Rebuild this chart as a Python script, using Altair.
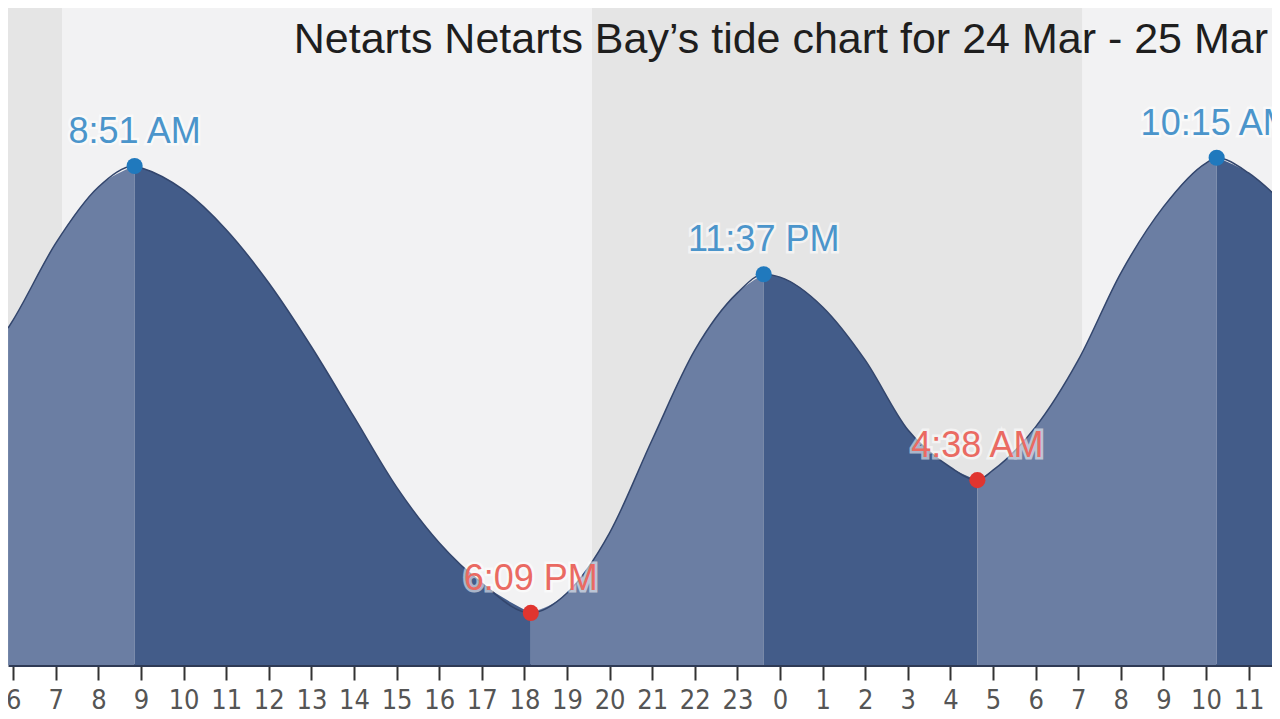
import altair as alt
import pandas as pd

# ---- data (hours counted from 24 Mar 00:00; heights in ft) ----
hours = [5.88, 6, 7, 8, 8.85, 9, 10, 11, 12, 13, 14, 15, 16, 17, 18.15, 19, 20, 21, 22,
         23, 23.617, 24, 25, 26, 27, 28, 28.633, 29, 30, 31, 32, 33, 34, 34.25, 35, 35.74]
heights = [5.76, 5.90, 7.21, 8.17, 8.53, 8.50, 8.12, 7.44, 6.53, 5.44, 4.24, 3.04, 2.09, 1.40,
           0.89, 1.23, 2.26, 3.85, 5.38, 6.36, 6.68, 6.63, 6.12, 5.21, 4.02, 3.38, 3.16, 3.33,
           4.07, 5.21, 6.70, 7.83, 8.58, 8.67, 8.41, 7.95]

ext_hours = [8.85, 18.15, 23.617, 28.633, 34.25]
ext_heights = [8.53, 0.89, 6.68, 3.16, 8.67]
ext_labels = ["8:51 AM", "6:09 PM", "11:37 PM", "4:38 AM", "10:15 AM"]
ext_kinds = ["high", "low", "high", "low", "high"]

night_start = [5.878, 19.587]
night_end = [7.146, 31.09]

tick_hours = list(range(6, 36))
x_domain = [5.878, 35.549]
y_domain = [0, 11.23]
title_text = "Netarts Netarts Bay\u2019s tide chart for 24 Mar - 25 Mar"

# ---- tables ----
bounds = [hours[0]] + ext_hours + [hours[-1]]
rows = []
for i in range(len(bounds) - 1):
    lo, hi = bounds[i], bounds[i + 1]
    if i < len(ext_kinds):
        phase = "rise" if ext_kinds[i] == "high" else "fall"
    else:
        phase = "fall" if ext_kinds[-1] == "high" else "rise"
    for t, h in zip(hours, heights):
        if lo <= t <= hi:
            rows.append({"t": t, "h": h, "seg": i, "phase": phase})
seg_df = pd.DataFrame(rows)
curve_df = pd.DataFrame({"t": hours, "h": heights})
ext_df = pd.DataFrame({"t": ext_hours, "h": ext_heights, "label": ext_labels, "kind": ext_kinds})
night_df = pd.DataFrame({"t": night_start, "t2": night_end})
title_df = pd.DataFrame({"title": [title_text]})

FONT = "Liberation Sans, Arial, sans-serif"
AXFONT = "Liberation Sans Narrow, DejaVu Sans Condensed, Liberation Sans, sans-serif"

xscale = alt.Scale(domain=x_domain, nice=False, zero=False)
yscale = alt.Scale(domain=y_domain, nice=False, zero=True)

X = alt.X(
    "t:Q",
    scale=xscale,
    axis=alt.Axis(
        values=tick_hours,
        labelExpr="datum.value % 24",
        title=None,
        grid=False,
        domainColor="#2e3a55",
        domainWidth=3,
        tickColor="#333333",
        tickWidth=2,
        tickSize=15,
        labelFontSize=27,
        labelFont=AXFONT,
        labelColor="#555555",
        labelPadding=7,
        labelFlush=False,
        labelOverlap=False,
    ),
)

bands = alt.Chart(night_df).mark_rect(color="#e5e5e5").encode(
    x=alt.X("t:Q", scale=xscale), x2="t2:Q"
)

area = alt.Chart(seg_df).mark_area(interpolate="monotone").encode(
    x=X,
    y=alt.Y("h:Q", stack=None, scale=yscale, axis=None),
    color=alt.Color("phase:N", scale=alt.Scale(domain=["rise", "fall"],
                                               range=["#6b7ea3", "#435c89"]), legend=None),
    detail="seg:N",
)

outline = alt.Chart(curve_df).mark_line(interpolate="monotone", color="#33466d",
                                        strokeWidth=1.5).encode(
    x=alt.X("t:Q", scale=xscale), y=alt.Y("h:Q", scale=yscale)
)

points = alt.Chart(ext_df).mark_circle(size=260, opacity=1).encode(
    x=alt.X("t:Q", scale=xscale),
    y=alt.Y("h:Q", scale=yscale),
    color=alt.Color("kind:N", scale=alt.Scale(domain=["high", "low"],
                                              range=["#2079bd", "#e0352f"]), legend=None),
)

halo = alt.Chart(ext_df).mark_text(fontSize=36, font=FONT, dy=-23, baseline="alphabetic",
                                   align="center", fill="white", stroke="white",
                                   strokeWidth=5, opacity=0.55).encode(
    x=alt.X("t:Q", scale=xscale), y=alt.Y("h:Q", scale=yscale), text="label:N"
)

labels = alt.Chart(ext_df).mark_text(fontSize=36, font=FONT, dy=-23, baseline="alphabetic",
                                     align="center").encode(
    x=alt.X("t:Q", scale=xscale),
    y=alt.Y("h:Q", scale=yscale),
    text="label:N",
    color=alt.Color("kind:N", scale=alt.Scale(domain=["high", "low"],
                                              range=["#4b95cb", "#ea6a62"]), legend=None),
)

title = alt.Chart(title_df).mark_text(fontSize=43, font=FONT, color="#1e1e1e", align="right",
                                      baseline="alphabetic").encode(
    x=alt.value(1260), y=alt.value(45), text="title:N"
)

chart = alt.layer(bands, area, outline, points, halo, labels, title).resolve_scale(
    color="independent"
).properties(
    width=1264,
    height=657,
    padding={"left": 0, "top": 0, "right": 0, "bottom": 54},
    autosize=alt.AutoSizeParams(type="none"),
    background="white",
).configure_view(stroke=None, fill="#f2f2f3")

chart.save("out.html", embed_options={"renderer": "svg", "actions": False})
